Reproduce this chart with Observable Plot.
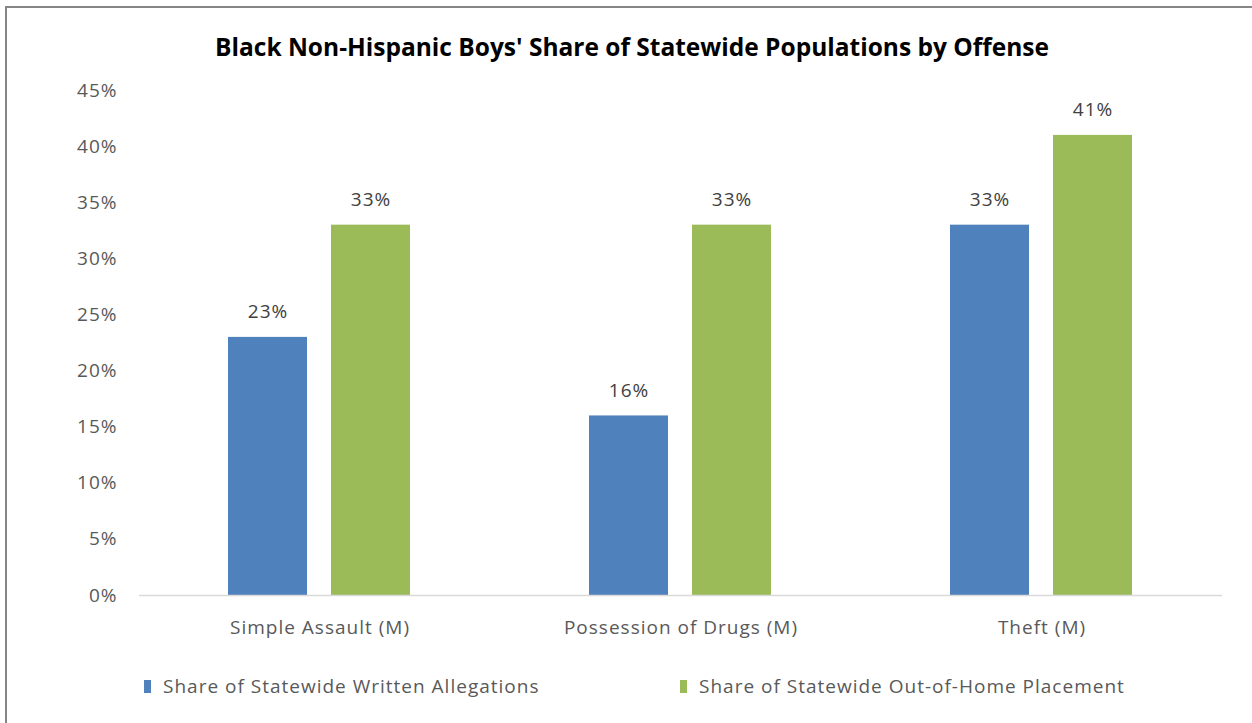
<!DOCTYPE html>
<html>
<head>
<meta charset="utf-8">
<script src="https://cdn.jsdelivr.net/npm/d3@7"></script>
<script src="https://cdn.jsdelivr.net/npm/@observablehq/plot@0.6"></script>
<style>
  html, body { margin: 0; padding: 0; background: #fff; }
  #wrap { position: relative; width: 1252px; height: 723px; overflow: hidden; font-family: "Open Sans", Lato, sans-serif; }
  #frame { position: absolute; left: 5px; top: 6px; width: 1400px; height: 900px; border-left: 2px solid #868686; border-top: 2px solid #868686; }
  #title { position: absolute; top: 30px; left: 6px; width: 1252px; text-align: center; font-weight: bold; font-size: 24.5px; color: #000; }
  #chart { position: absolute; left: 0; top: 0; }
  #legend { position: absolute; top: 673px; left: 144px; font-size: 19px; letter-spacing: 1px; color: #595959; }
  .item { position: absolute; white-space: nowrap; display: flex; align-items: center; }
  .sw { width: 7px; height: 13px; margin-right: 12px; }
</style>
</head>
<body>
<div id="wrap">
  <div id="frame"></div>
  <div id="chart"></div>
  <div id="title"></div>
  <div id="legend"></div>
</div>
<script>
const titleText = "Black Non-Hispanic Boys' Share of Statewide Populations by Offense";
const categories = ["Simple Assault (M)", "Possession of Drugs (M)", "Theft (M)"];
const series = ["Share of Statewide Written Allegations", "Share of Statewide Out-of-Home Placement"];
const allegations = [0.23, 0.16, 0.33];
const placement = [0.33, 0.33, 0.41];
const yTicks = [0, 0.05, 0.10, 0.15, 0.20, 0.25, 0.30, 0.35, 0.40, 0.45];
const colors = ["#4F81BD", "#9BBB59"];

const data = categories.flatMap((c, i) => [
  {category: c, series: series[0], value: allegations[i]},
  {category: c, series: series[1], value: placement[i]}
]);
const pct = d3.format(".0%");

const chart = Plot.plot({
  width: 1252,
  height: 660,
  marginTop: 90,
  marginBottom: 65,
  marginLeft: 138,
  marginRight: 29,
  style: {fontFamily: "'Open Sans', Lato, sans-serif", fontSize: "19px", letterSpacing: "1px", color: "#595959", background: "transparent", overflow: "visible"},
  fx: {domain: categories, paddingInner: 0, paddingOuter: 0, axis: "bottom", tickSize: 0, tickPadding: 25, label: null},
  x: {domain: series, paddingInner: 0.2308, paddingOuter: 0.854, axis: null},
  y: {domain: [0, 0.45], ticks: yTicks, tickFormat: pct, tickSize: 0, tickPadding: 22, label: null},
  color: {domain: series, range: colors},
  marks: [
    Plot.barY(data, {fx: "category", x: "series", y: "value", fill: "series"}),
    Plot.ruleY([0], {stroke: "#d9d9d9", strokeWidth: 1.5}),
    Plot.text(data, {fx: "category", x: "series", y: "value", text: d => pct(d.value), dy: -25, fill: "#404040", lineAnchor: "middle"})
  ]
});
document.getElementById("chart").appendChild(chart);
document.getElementById("title").textContent = titleText;

const legend = document.getElementById("legend");
const offsets = [0, 536];
series.forEach((s, i) => {
  const it = document.createElement("div");
  it.className = "item";
  it.style.left = offsets[i] + "px";
  const sw = document.createElement("span");
  sw.className = "sw";
  sw.style.background = colors[i];
  const tx = document.createElement("span");
  tx.textContent = s;
  it.appendChild(sw); it.appendChild(tx);
  legend.appendChild(it);
});
</script>
</body>
</html>
